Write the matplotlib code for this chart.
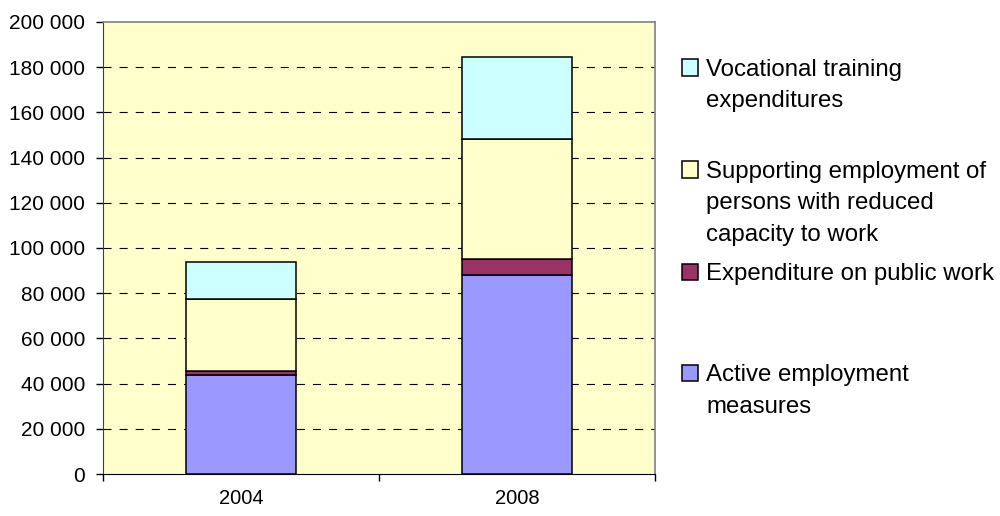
import matplotlib
matplotlib.use('Agg')
import numpy as np
from matplotlib import pyplot as plt
from matplotlib.patches import Rectangle
from matplotlib.ticker import FuncFormatter

plt.rcParams['font.family'] = ['Liberation Sans', 'DejaVu Sans']
plt.rcParams['lines.scale_dashes'] = False

years = ['2004', '2008']
active = [43900, 88200]
public_work = [1700, 6900]
supporting = [31800, 53000]
vocational = [16300, 36300]

series = [
    (active, '#9999FF', 'Active employment\nmeasures'),
    (public_work, '#993366', 'Expenditure on public work'),
    (supporting, '#FFFFCC', 'Supporting employment of\npersons with reduced\ncapacity to work'),
    (vocational, '#CCFFFF', 'Vocational training\nexpenditures'),
]

W, H = 1000, 516
fig = plt.figure(figsize=(W / 100, H / 100), dpi=100)
ax = fig.add_axes([103 / W, 1 - 474 / H, (655 - 103) / W, (474 - 22) / H])
ax.set_facecolor('#FFFFCC')

x = np.arange(len(years))
bottom = np.zeros(len(years))
for values, color, label in series:
    ax.bar(x, values, width=0.4, bottom=bottom, color=color,
           edgecolor='black', linewidth=1.1, zorder=3)
    bottom += np.array(values)

ax.set_xlim(-0.5, 1.5)
ax.set_ylim(0, 200000)
ax.set_yticks(np.arange(0, 200001, 20000))
ax.yaxis.set_major_formatter(FuncFormatter(lambda v, p: '{:,.0f}'.format(v).replace(',', ' ')))
for yv in np.arange(20000, 200000, 20000):
    ax.axhline(yv, color='black', linewidth=0.8, linestyle=(0, (5.8, 5.8)), zorder=1)

ax.set_xticks([-0.5, 0.5, 1.5])
ax.set_xticklabels([])
ax.set_xticks(x, minor=True)
ax.set_xticklabels(years, minor=True)
ax.tick_params(axis='x', which='minor', length=0, pad=11, labelsize=14.5)
ax.tick_params(axis='x', which='major', length=5, width=1, direction='out')
ax.tick_params(axis='y', length=5, width=1, direction='out', labelsize=15, pad=8)

for side in ['top', 'right']:
    ax.spines[side].set_color('#808080')
    ax.spines[side].set_linewidth(1.2)
ax.spines['left'].set_color('#404040')
ax.spines['bottom'].set_color('black')

# legend drawn in Excel style
legend_rows = [(3, 67.5), (2, 169.5), (1, 271.5), (0, 373)]
for idx, yc in legend_rows:
    values, color, label = series[idx]
    fig.patches.append(Rectangle((682 / W, 1 - (yc + 8) / H), 16 / W, 16 / H,
                                 transform=fig.transFigure, facecolor=color,
                                 edgecolor='black', linewidth=1.1))
    lines = label.split('\n')
    for i, line in enumerate(lines):
        fig.text(706 / W, 1 - (yc + i * 31.5) / H, line, fontsize=17.3,
                 va='center_baseline', ha='left')

fig.savefig('out.png', dpi=100)
